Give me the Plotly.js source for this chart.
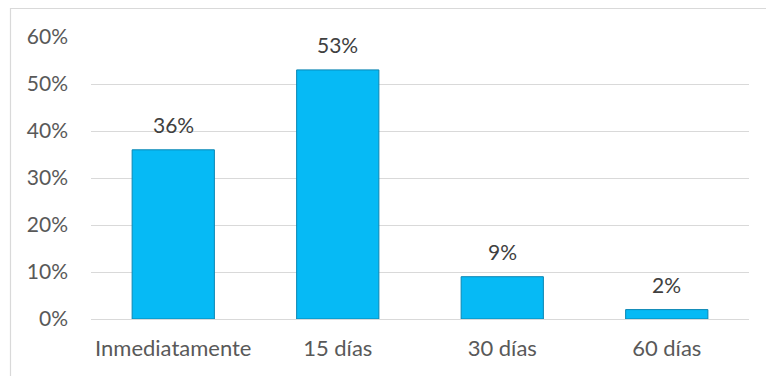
<!DOCTYPE html>
<html>
<head>
<meta charset="utf-8">
<script src="https://cdn.plot.ly/plotly-3.0.1.min.js"></script>
<style>
html,body{margin:0;padding:0;background:#fff;}
#chart{width:766px;height:376px;}
</style>
</head>
<body>
<div id="chart"></div>
<script>
// Data
var categories = ["Inmediatamente", "15 días", "30 días", "60 días"];
var values = [0.36, 0.53, 0.09, 0.02];
var labels = ["36%", "53%", "9%", "2%"];
var yTickVals = [0, 0.1, 0.2, 0.3, 0.4, 0.5, 0.6];
var yTickText = ["0%", "10%", "20%", "30%", "40%", "50%", "60%"];

var FONT = "Lato, 'Open Sans', sans-serif";
var FS = 21;

var trace = {
  type: "bar",
  x: categories,
  y: values,
  marker: {
    color: "#06baf5",
    line: {color: "#0a86b3", width: 1}
  },
  hoverinfo: "none"
};

var annotations = categories.map(function (c, i) {
  return {
    x: c, y: values[i], xref: "x", yref: "y",
    text: labels[i], showarrow: false,
    yanchor: "bottom", yshift: 11,
    font: {family: FONT, size: FS, color: "#404040"}
  };
});

var layout = {
  width: 766, height: 376,
  margin: {l: 91, r: 17, t: 37, b: 57},
  paper_bgcolor: "#ffffff",
  plot_bgcolor: "#ffffff",
  showlegend: false,
  bargap: 0.5,
  font: {family: FONT, size: FS, color: "#595959"},
  xaxis: {
    type: "category",
    showgrid: false, zeroline: false, showline: false,
    ticks: "", ticklabelstandoff: 14,
    tickfont: {family: FONT, size: 22, color: "#595959"}
  },
  yaxis: {
    range: [0, 0.6],
    tickvals: yTickVals, ticktext: yTickText,
    showgrid: true, gridcolor: "#d9d9d9", gridwidth: 1,
    zeroline: true, zerolinecolor: "#d9d9d9", zerolinewidth: 1,
    showline: false, ticks: "", ticklabelstandoff: 22,
    tickfont: {family: FONT, size: FS, color: "#595959"}
  },
  annotations: annotations,
  shapes: [{
    type: "rect", xref: "paper", yref: "paper",
    x0: (10.5 - 91) / 658, x1: 1.2,
    y0: -0.4, y1: 1 + (37 - 8.5) / 282,
    line: {color: "#d9d9d9", width: 1.2},
    fillcolor: "rgba(0,0,0,0)", layer: "below"
  }]
};

Plotly.newPlot("chart", [trace], layout, {displayModeBar: false, staticPlot: true});
</script>
</body>
</html>
